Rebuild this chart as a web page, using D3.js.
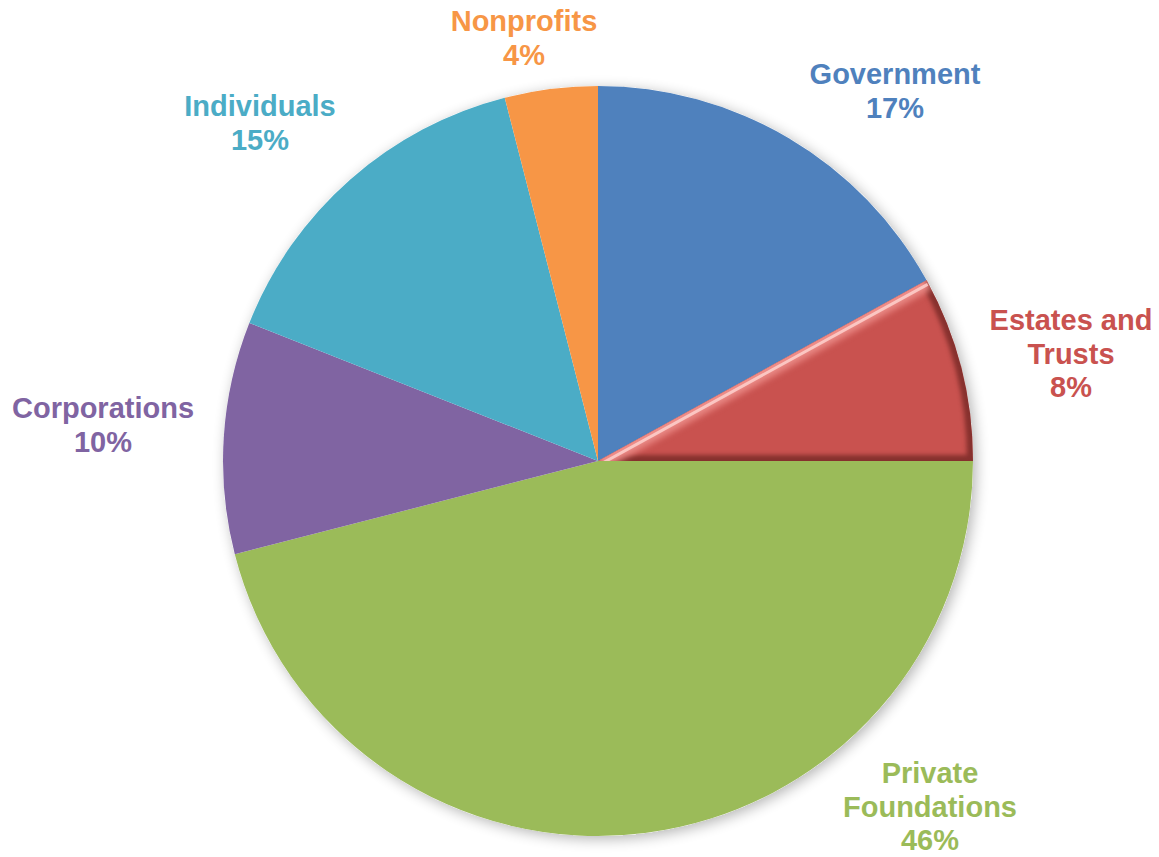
<!DOCTYPE html>
<html>
<head>
<meta charset="utf-8">
<script src="https://cdn.jsdelivr.net/npm/d3@7"></script>
<style>
	body { margin: 0; background: #fff; }
	text { font-family: "Liberation Sans", Arial, sans-serif; font-weight: bold; }
</style>
</head>
<body>
<svg width="1159" height="857"></svg>
<script>
// data
var categories = ["Government", "Estates and Trusts", "Private Foundations", "Corporations", "Individuals", "Nonprofits"];
var values = [17, 8, 46, 10, 15, 4];
var colours = ["#4f81bd", "#c9524f", "#9bbb59", "#8064a2", "#4bacc6", "#f79646"];
var labelLines = [["Government"], ["Estates and", "Trusts"], ["Private", "Foundations"], ["Corporations"], ["Individuals"], ["Nonprofits"]];

// label anchors (layout only)
var labelPos = [[895, 84], [1071, 330], [930, 783], [103, 418], [260, 116], [524, 31]];

var svg = d3.select("svg"),
	cx = 598, cy = 461, radius = 375;

var defs = svg.append("defs");

var shadow = defs.append("filter").attr("id", "shadow")
	.attr("x", "-10%").attr("y", "-10%").attr("width", "120%").attr("height", "120%");
shadow.append("feGaussianBlur").attr("in", "SourceAlpha").attr("stdDeviation", 7);
shadow.append("feOffset").attr("dx", 3).attr("dy", 3).attr("result", "blur");
shadow.append("feComponentTransfer").append("feFuncA").attr("type", "linear").attr("slope", 0.3);
var merge = shadow.append("feMerge");
merge.append("feMergeNode");
merge.append("feMergeNode").attr("in", "SourceGraphic");

var pie = d3.pie().sort(null).value(function(d) { return d; });
var arcs = pie(values);

var arc = d3.arc().innerRadius(0).outerRadius(radius);

var g = svg.append("g").attr("transform", "translate(" + cx + "," + cy + ")");

g.append("circle").attr("r", radius).attr("fill", "#fff").attr("filter", "url(#shadow)");

g.selectAll("path.slice")
	.data(arcs)
	.enter().append("path")
		.attr("class", "slice")
		.attr("d", arc)
		.attr("fill", function(d, i) { return colours[i]; });

// bevel on the estates slice
var est = arcs[1];
defs.append("clipPath").attr("id", "estclip")
	.append("path").attr("d", arc(est));

var bevel = g.append("g").attr("clip-path", "url(#estclip)");
bevel.append("path")
	.attr("d", arc(est))
	.attr("fill", "none")
	.attr("stroke", "#5a1a18")
	.attr("stroke-opacity", 0.6)
	.attr("stroke-width", 12)
	.style("filter", "blur(2px)");

// highlight along the upper straight edge
var a0 = est.startAngle;
var ux = Math.sin(a0), uy = -Math.cos(a0);
bevel.append("line")
	.attr("x1", 0).attr("y1", 0)
	.attr("x2", ux * radius).attr("y2", uy * radius)
	.attr("stroke", "#ee8b87")
	.attr("stroke-width", 20)
	.style("filter", "blur(3px)");
bevel.append("line")
	.attr("x1", 0).attr("y1", 0)
	.attr("x2", ux * radius).attr("y2", uy * radius)
	.attr("stroke", "#ffd6d2")
	.attr("stroke-width", 3)
	.attr("transform", "translate(1,4)")
	.attr("opacity", 0.8);

// labels
var labels = svg.selectAll("text.label")
	.data(arcs)
	.enter().append("text")
		.attr("class", "label")
		.attr("text-anchor", "middle")
		.attr("font-size", 29)
		.attr("fill", function(d, i) { return colours[i]; })
		.attr("x", function(d, i) { return labelPos[i][0]; })
		.attr("y", function(d, i) { return labelPos[i][1]; });

labels.each(function(d, i) {
	var t = d3.select(this);
	var lines = labelLines[i].concat([d.data + "%"]);
	lines.forEach(function(l, j) {
		t.append("tspan")
			.attr("x", labelPos[i][0])
			.attr("dy", j == 0 ? 0 : 33.5)
			.text(l);
	});
});
</script>
</body>
</html>
